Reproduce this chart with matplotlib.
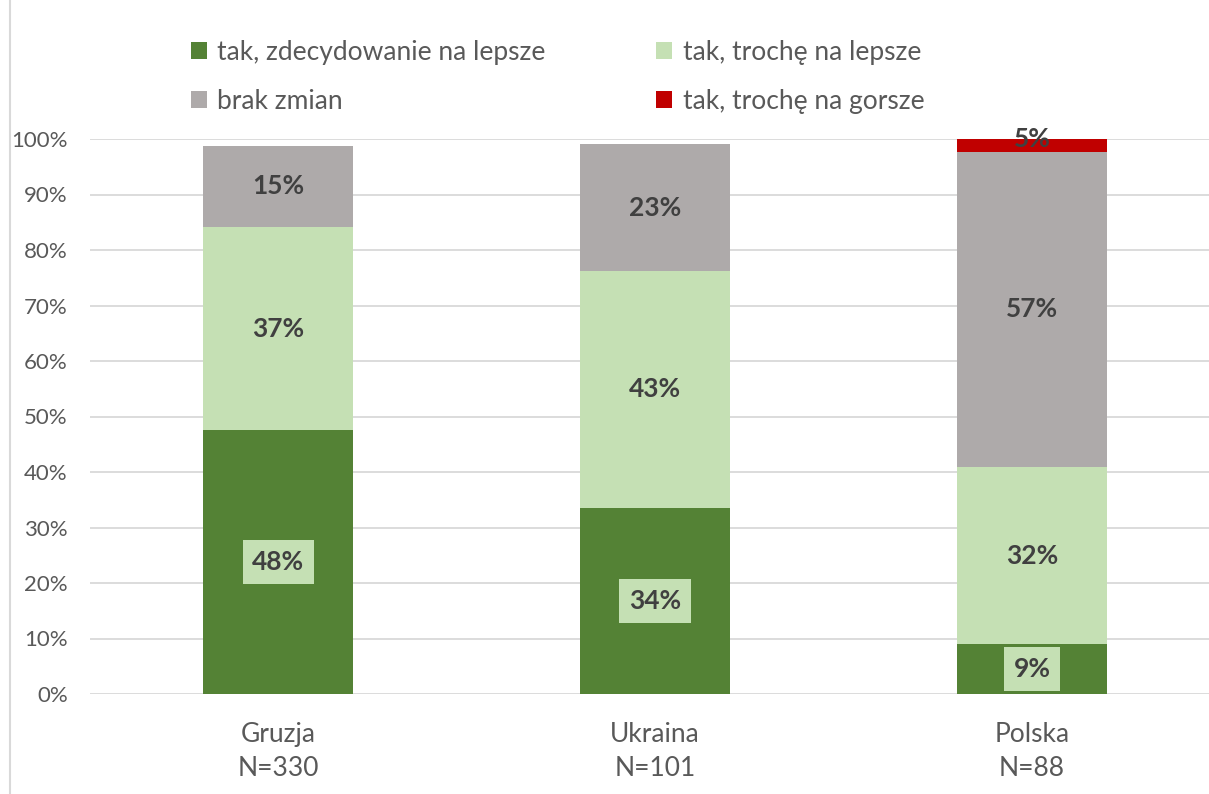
import numpy as np
import matplotlib.pyplot as plt
from matplotlib.lines import Line2D

plt.rcParams['font.family'] = ['Lato', 'DejaVu Sans']

# data
countries = ['Gruzja\nN=330', 'Ukraina\nN=101', 'Polska\nN=88']
series_names = ['tak, zdecydowanie na lepsze', 'tak, trochę na lepsze',
                'brak zmian', 'tak, trochę na gorsze']
zdecydowanie = [47.5, 33.6, 9.0]
trochę_lepsze = [36.7, 42.6, 31.9]
brak_zmian = [14.6, 22.9, 56.8]
trochę_gorsze = [0.0, 0.0, 4.5]
labels = [['48%', '34%', '9%'], ['37%', '43%', '32%'],
          ['15%', '23%', '57%'], ['', '', '5%']]

colors = ['#548235', '#c5e0b4', '#aeaaaa', '#c00000']
txt_dark = '#404040'
txt_gray = '#595959'

fig = plt.figure(figsize=(12.09, 7.94), dpi=100)
ax = fig.add_axes([90 / 1209, 100 / 794, 1 - 90 / 1209, (694 - 139) / 794])

x = np.arange(len(countries))
width = 0.398
all_series = [zdecydowanie, trochę_lepsze, brak_zmian, trochę_gorsze]
bottom = np.zeros(len(countries))
bars = []
for vals, col, name in zip(all_series, colors, series_names):
    b = ax.bar(x, vals, width, bottom=bottom, color=col, label=name, zorder=2)
    bars.append(b)
    bottom = bottom + np.array(vals)

# segment labels
bottom = np.zeros(len(countries))
for i, vals in enumerate(all_series):
    for j, v in enumerate(vals):
        if labels[i][j]:
            yc = bottom[j] + v / 2
            kw = {}
            if i == 0:
                kw['bbox'] = dict(facecolor='#c5e0b4', edgecolor='none', pad=7)
            ax.text(x[j], yc, labels[i][j], ha='center', va='center',
                    fontsize=19, fontweight='bold', color=txt_dark, zorder=4, **kw)
    bottom = bottom + np.array(vals)

ax.set_ylim(0, 100)
ax.set_xlim(-0.5, 2.47)
ax.set_yticks(np.arange(0, 101, 10))
ax.set_yticklabels([f'{v}%' for v in range(0, 101, 10)])
ax.set_xticks(x)
ax.set_xticklabels(countries, linespacing=1.45)
ax.tick_params(axis='both', length=0, colors=txt_gray, labelsize=16)
ax.tick_params(axis='x', pad=20, labelsize=19)
ax.tick_params(axis='y', pad=16)
ax.grid(axis='y', color='#d9d9d9', linewidth=1.3, zorder=0)
ax.set_axisbelow(True)
for s in ax.spines.values():
    s.set_visible(False)

handles = [bars[0], bars[2], bars[1], bars[3]]
leg = fig.legend(handles, [series_names[0], series_names[2], series_names[1], series_names[3]],
                 ncol=2, loc='upper left', bbox_to_anchor=(167 / 1209, 1 - 16 / 794),
                 frameon=False, fontsize=19, handlelength=0.6, handleheight=0.6,
                 handletextpad=0.4, columnspacing=4.2, labelspacing=0.92,
                 labelcolor=txt_gray)

fig.add_artist(Line2D([10 / 1209, 10 / 1209], [0, 1], color='#d9d9d9', linewidth=1.5))

fig.savefig('out.png', dpi=100)
